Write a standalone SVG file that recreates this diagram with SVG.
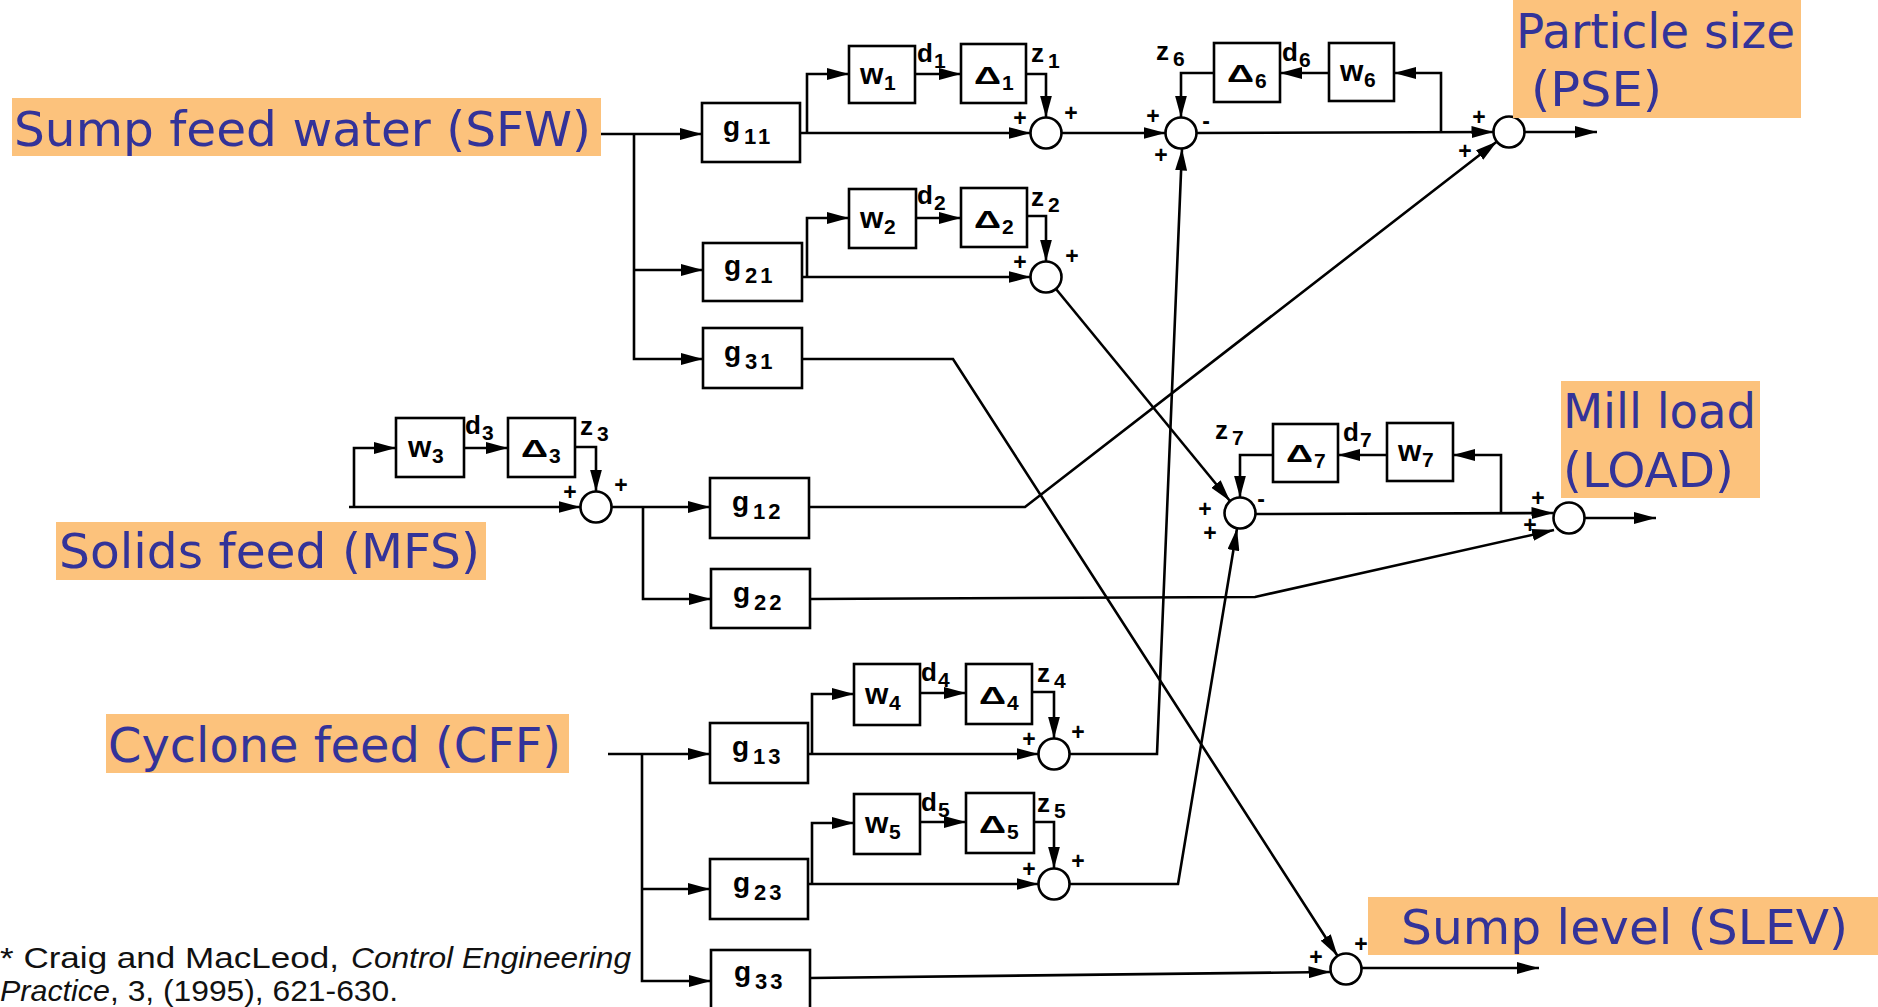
<svg xmlns="http://www.w3.org/2000/svg" width="1878" height="1007" viewBox="0 0 1878 1007">
<defs>
<marker id="ah" markerUnits="userSpaceOnUse" markerWidth="22" markerHeight="12" viewBox="0 0 22 12" refX="22" refY="6" orient="auto">
<path d="M0,0 L22,6 L0,12 z" fill="#000"/>
</marker>
<style>
.bx{fill:#fff;stroke:#000;stroke-width:2.6}
.sj{fill:#fff;stroke:#000;stroke-width:2.6}
.ln{fill:none;stroke:#000;stroke-width:2.6;stroke-linejoin:miter}
.ar{marker-end:url(#ah)}
.m{font-family:"Liberation Sans",Arial,sans-serif;font-weight:bold;font-size:28px;fill:#000}
.w{font-family:"Liberation Sans",Arial,sans-serif;font-weight:bold;font-size:30px;fill:#000}
.dl{font-family:"Liberation Sans",Arial,sans-serif;font-weight:bold;font-size:24px;fill:#000}
.d{font-family:"Liberation Sans",Arial,sans-serif;font-weight:bold;font-size:26px;fill:#000}
.s{font-family:"Liberation Sans",Arial,sans-serif;font-weight:bold;font-size:21px;fill:#000}
.gs{font-family:"Liberation Sans",Arial,sans-serif;font-weight:bold;font-size:22px;letter-spacing:3px;fill:#000}
.sg{font-family:"Liberation Sans",Arial,sans-serif;font-weight:bold;font-size:23px;text-anchor:middle;dominant-baseline:central;fill:#000}
.bl{font-family:"DejaVu Sans","Liberation Sans",sans-serif;font-size:48px;fill:#333399}
.or{fill:#FCC27C}
.fn{font-family:"Liberation Sans",Arial,sans-serif;font-size:30px;fill:#111}
.it{font-style:italic}
</style>
</defs>
<rect width="1878" height="1007" fill="#fff"/>

<g id="connectors">
<path class="ln ar" d="M601,134 H702"/>
<path class="ln ar" d="M634,134 V359 H703"/>
<path class="ln ar" d="M634,270 H703"/>
<path class="ln ar" d="M800,133 H1030.5"/>
<path class="ln ar" d="M807,133 V74 H849"/>
<path class="ln ar" d="M915,74 H961"/>
<path class="ln ar" d="M1026,74 H1046 V117.5"/>
<path class="ln ar" d="M1061.5,133 H1165.5"/>
<path class="ln ar" d="M1196.5,133 L1493.5,132"/>
<path class="ln ar" d="M1524.5,132 H1597"/>
<path class="ln ar" d="M1441,133 V73 H1394"/>
<path class="ln ar" d="M1329,73 H1280"/>
<path class="ln ar" d="M1214,73 H1181 V117.5"/>
<path class="ln ar" d="M802,277 H1030.5"/>
<path class="ln ar" d="M807,277 V218 H849"/>
<path class="ln ar" d="M916,218 H961"/>
<path class="ln ar" d="M1027,216 H1046 V261.5"/>
<path class="ln ar" d="M1056,289 L1230,501"/>
<path class="ln ar" d="M802,359 H953 L1337.6,956"/>
<path class="ln ar" d="M349,507 H580.5"/>
<path class="ln ar" d="M354,507 V448 H396"/>
<path class="ln ar" d="M464,448 H508"/>
<path class="ln ar" d="M575,447 H596 V491.5"/>
<path class="ln ar" d="M611.5,507 H710"/>
<path class="ln ar" d="M643,507 V599 H711"/>
<path class="ln ar" d="M809,507 H1025 L1497,141.5"/>
<path class="ln ar" d="M810,599 L1255,597 L1554,530"/>
<path class="ln ar" d="M1255.5,514 L1553.5,513"/>
<path class="ln ar" d="M1501,514 V455 H1453"/>
<path class="ln ar" d="M1387,455 H1338"/>
<path class="ln ar" d="M1273,455 H1240 V497.5"/>
<path class="ln ar" d="M1584.5,518 H1656"/>
<path class="ln ar" d="M608,754 H710"/>
<path class="ln ar" d="M642,754 V981 H711"/>
<path class="ln ar" d="M642,889 H710"/>
<path class="ln ar" d="M808,754 H1038.5"/>
<path class="ln ar" d="M812,754 V694 H854"/>
<path class="ln ar" d="M920,693 H966"/>
<path class="ln ar" d="M1032,692 H1054 V738.5"/>
<path class="ln ar" d="M1069.5,754 H1157 L1182,148.5"/>
<path class="ln ar" d="M808,884 H1038.5"/>
<path class="ln ar" d="M812,884 V823 H854"/>
<path class="ln ar" d="M920,822 H966"/>
<path class="ln ar" d="M1034,822 H1054 V868.5"/>
<path class="ln ar" d="M1069.5,884 H1178 L1237,528.5"/>
<path class="ln ar" d="M810,978 L1330.5,972"/>
<path class="ln ar" d="M1361.5,968 H1539"/>
</g>

<g id="g11"><rect class="bx" x="702" y="103" width="98" height="59"/><text class="m" x="723" y="136">g</text><text class="gs" x="744" y="144">11</text></g>
<g id="g21"><rect class="bx" x="703" y="243" width="99" height="58"/><text class="m" x="724" y="275">g</text><text class="gs" x="745" y="283">21</text></g>
<g id="g31"><rect class="bx" x="703" y="328" width="99" height="60"/><text class="m" x="724" y="361">g</text><text class="gs" x="745" y="369">31</text></g>
<g id="g12"><rect class="bx" x="710" y="478" width="99" height="60"/><text class="m" x="732" y="511">g</text><text class="gs" x="753" y="519">12</text></g>
<g id="g22"><rect class="bx" x="711" y="569" width="99" height="59"/><text class="m" x="733" y="602">g</text><text class="gs" x="754" y="610">22</text></g>
<g id="g13"><rect class="bx" x="710" y="723" width="98" height="60"/><text class="m" x="732" y="756">g</text><text class="gs" x="753" y="764">13</text></g>
<g id="g23"><rect class="bx" x="710" y="859" width="98" height="60"/><text class="m" x="733" y="892">g</text><text class="gs" x="754" y="900">23</text></g>
<g id="g33"><rect class="bx" x="711" y="950" width="99" height="64"/><text class="m" x="734" y="981">g</text><text class="gs" x="755" y="989">33</text></g>

<g id="w1"><rect class="bx" x="849" y="46" width="66" height="57"/><text class="w" x="860" y="84">w</text><text class="s" x="884" y="90">1</text></g>
<g id="D1"><rect class="bx" x="961" y="44" width="65" height="59"/><text class="dl" x="974" y="84" textLength="27" lengthAdjust="spacingAndGlyphs">Δ</text><text class="s" x="1002" y="90">1</text></g>
<g id="w2"><rect class="bx" x="849" y="189" width="67" height="59"/><text class="w" x="860" y="228">w</text><text class="s" x="884" y="234">2</text></g>
<g id="D2"><rect class="bx" x="961" y="188" width="66" height="59"/><text class="dl" x="974" y="228" textLength="27" lengthAdjust="spacingAndGlyphs">Δ</text><text class="s" x="1002" y="234">2</text></g>
<g id="w3"><rect class="bx" x="396" y="418" width="68" height="59"/><text class="w" x="408" y="457">w</text><text class="s" x="432" y="463">3</text></g>
<g id="D3"><rect class="bx" x="508" y="418" width="67" height="59"/><text class="dl" x="521" y="457" textLength="27" lengthAdjust="spacingAndGlyphs">Δ</text><text class="s" x="549" y="463">3</text></g>
<g id="w4"><rect class="bx" x="854" y="664" width="66" height="61"/><text class="w" x="865" y="704">w</text><text class="s" x="889" y="710">4</text></g>
<g id="D4"><rect class="bx" x="966" y="664" width="66" height="60"/><text class="dl" x="979" y="704" textLength="27" lengthAdjust="spacingAndGlyphs">Δ</text><text class="s" x="1007" y="710">4</text></g>
<g id="w5"><rect class="bx" x="854" y="794" width="66" height="60"/><text class="w" x="865" y="833">w</text><text class="s" x="889" y="839">5</text></g>
<g id="D5"><rect class="bx" x="966" y="793" width="68" height="60"/><text class="dl" x="979" y="833" textLength="27" lengthAdjust="spacingAndGlyphs">Δ</text><text class="s" x="1007" y="839">5</text></g>
<g id="w6"><rect class="bx" x="1329" y="43" width="65" height="58"/><text class="w" x="1340" y="81">w</text><text class="s" x="1364" y="87">6</text></g>
<g id="D6"><rect class="bx" x="1214" y="43" width="66" height="59"/><text class="dl" x="1227" y="82" textLength="27" lengthAdjust="spacingAndGlyphs">Δ</text><text class="s" x="1255" y="88">6</text></g>
<g id="w7"><rect class="bx" x="1387" y="423" width="66" height="58"/><text class="w" x="1398" y="461">w</text><text class="s" x="1422" y="467">7</text></g>
<g id="D7"><rect class="bx" x="1273" y="424" width="65" height="58"/><text class="dl" x="1286" y="462" textLength="27" lengthAdjust="spacingAndGlyphs">Δ</text><text class="s" x="1314" y="468">7</text></g>

<g id="sig-labels">
<text class="d" x="917" y="62">d</text><text class="s" x="934" y="68">1</text>
<text class="d" x="1031" y="62">z</text><text class="s" x="1048" y="68">1</text>
<text class="d" x="917" y="204">d</text><text class="s" x="934" y="210">2</text>
<text class="d" x="1031" y="206">z</text><text class="s" x="1048" y="212">2</text>
<text class="d" x="465" y="434">d</text><text class="s" x="482" y="440">3</text>
<text class="d" x="580" y="435">z</text><text class="s" x="597" y="441">3</text>
<text class="d" x="921" y="681">d</text><text class="s" x="938" y="687">4</text>
<text class="d" x="1037" y="682">z</text><text class="s" x="1054" y="688">4</text>
<text class="d" x="921" y="811">d</text><text class="s" x="938" y="817">5</text>
<text class="d" x="1037" y="812">z</text><text class="s" x="1054" y="818">5</text>
<text class="d" x="1282" y="61">d</text><text class="s" x="1299" y="67">6</text>
<text class="d" x="1156" y="60">z</text><text class="s" x="1173" y="66">6</text>
<text class="d" x="1343" y="441">d</text><text class="s" x="1360" y="447">7</text>
<text class="d" x="1215" y="439">z</text><text class="s" x="1232" y="445">7</text>
</g>

<g id="S1"><circle class="sj" cx="1046" cy="133" r="15.5"/><text class="sg" x="1020" y="118">+</text><text class="sg" x="1071" y="113">+</text></g>
<g id="S2"><circle class="sj" cx="1046" cy="277" r="15.5"/><text class="sg" x="1020" y="262">+</text><text class="sg" x="1072" y="256">+</text></g>
<g id="S3"><circle class="sj" cx="596" cy="507" r="15.5"/><text class="sg" x="570" y="492">+</text><text class="sg" x="621" y="485">+</text></g>
<g id="S4"><circle class="sj" cx="1054" cy="754" r="15.5"/><text class="sg" x="1029" y="739">+</text><text class="sg" x="1078" y="732">+</text></g>
<g id="S5"><circle class="sj" cx="1054" cy="884" r="15.5"/><text class="sg" x="1029" y="869">+</text><text class="sg" x="1078" y="861">+</text></g>
<g id="S6"><circle class="sj" cx="1181" cy="133" r="15.5"/><text class="sg" x="1153" y="116">+</text><text class="sg" x="1206" y="121">-</text><text class="sg" x="1161" y="155">+</text></g>
<g id="S7"><circle class="sj" cx="1240" cy="513" r="15.5"/><text class="sg" x="1261" y="499">-</text><text class="sg" x="1205" y="509">+</text><text class="sg" x="1210" y="533">+</text></g>
<g id="SPSE"><circle class="sj" cx="1509" cy="132" r="15.5"/><text class="sg" x="1479" y="117">+</text><text class="sg" x="1465" y="151">+</text></g>
<g id="SLOAD"><circle class="sj" cx="1569" cy="518" r="15.5"/><text class="sg" x="1538" y="498">+</text><text class="sg" x="1530" y="525">+</text></g>
<g id="SSLEV"><circle class="sj" cx="1346" cy="969" r="15.5"/><text class="sg" x="1316" y="957">+</text><text class="sg" x="1361" y="944">+</text></g>

<g id="SFW"><rect class="or" x="12" y="98" width="589" height="58"/><text class="bl" x="14" y="146" textLength="577" lengthAdjust="spacingAndGlyphs">Sump feed water (SFW)</text></g>
<g id="PSE"><rect class="or" x="1513" y="0" width="288" height="118"/><text class="bl" x="1516" y="48" textLength="279" lengthAdjust="spacingAndGlyphs">Particle size</text><text class="bl" x="1531" y="106" textLength="131" lengthAdjust="spacingAndGlyphs">(PSE)</text></g>
<g id="LOAD"><rect class="or" x="1561" y="381" width="199" height="117"/><text class="bl" x="1563" y="428" textLength="193" lengthAdjust="spacingAndGlyphs">Mill load</text><text class="bl" x="1563" y="487" textLength="171" lengthAdjust="spacingAndGlyphs">(LOAD)</text></g>
<g id="MFS"><rect class="or" x="56" y="522" width="430" height="58"/><text class="bl" x="59" y="568" textLength="421" lengthAdjust="spacingAndGlyphs">Solids feed (MFS)</text></g>
<g id="CFF"><rect class="or" x="106" y="714" width="463" height="59"/><text class="bl" x="108" y="762" textLength="453" lengthAdjust="spacingAndGlyphs">Cyclone feed (CFF)</text></g>
<g id="SLEV"><rect class="or" x="1368" y="897" width="510" height="58"/><text class="bl" x="1401" y="944" textLength="447" lengthAdjust="spacingAndGlyphs">Sump level (SLEV)</text></g>

<g id="footnote">
<text class="fn" x="0" y="968" textLength="339" lengthAdjust="spacingAndGlyphs">* Craig and MacLeod,</text>
<text class="fn it" x="351" y="968" textLength="280" lengthAdjust="spacingAndGlyphs">Control Engineering</text>
<text class="fn it" x="0" y="1001" textLength="110" lengthAdjust="spacingAndGlyphs">Practice</text>
<text class="fn" x="110" y="1001" textLength="288" lengthAdjust="spacingAndGlyphs">, 3, (1995), 621-630.</text>
</g>
</svg>
